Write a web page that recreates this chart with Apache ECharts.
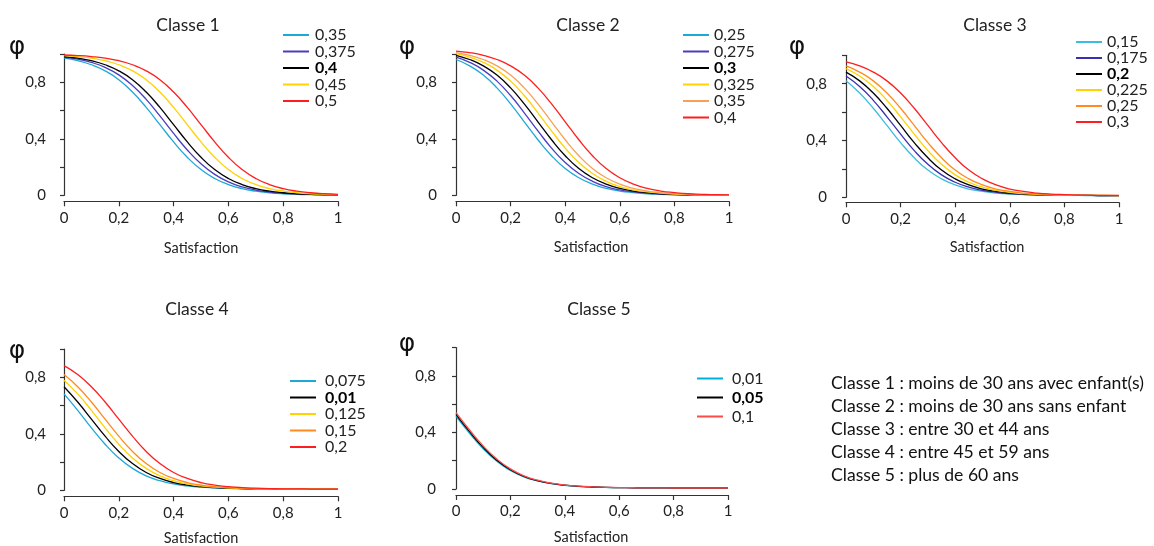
<!DOCTYPE html>
<html>
<head>
<meta charset="utf-8">
<script src="https://cdn.jsdelivr.net/npm/echarts@6/dist/echarts.min.js"></script>
<style>html,body{margin:0;padding:0;background:#fff}#c{width:1154px;height:546px}</style>
</head>
<body>
<div id="c"></div>
<script>
// Satisfaction sample points
const S = [0,0.05,0.1,0.15,0.2,0.25,0.3,0.35,0.4,0.45,0.5,0.55,0.6,0.65,0.7,0.75,0.8,0.85,0.9,0.95,1];
const xTickLabels = ['0','0,2','0,4','0,6','0,8','1'];
const yTickLabels = ['0','','0,4','','0,8',''];

// Classe 1
const c1_035  = [0.971,0.953,0.924,0.881,0.818,0.731,0.622,0.500,0.378,0.269,0.182,0.119,0.076,0.047,0.029,0.018,0.011,0.007,0.005,0.004,0.003];
const c1_0375 = [0.977,0.963,0.940,0.905,0.852,0.777,0.679,0.562,0.438,0.321,0.223,0.148,0.095,0.060,0.037,0.023,0.014,0.009,0.006,0.004,0.003];
const c1_04   = [0.982,0.971,0.953,0.924,0.881,0.818,0.731,0.622,0.500,0.378,0.269,0.182,0.119,0.076,0.047,0.029,0.018,0.011,0.007,0.005,0.004];
const c1_045  = [0.989,0.982,0.971,0.953,0.924,0.881,0.818,0.731,0.622,0.500,0.378,0.269,0.182,0.119,0.076,0.047,0.029,0.018,0.011,0.007,0.005];
const c1_05   = [0.993,0.989,0.982,0.971,0.953,0.924,0.881,0.818,0.731,0.622,0.500,0.378,0.269,0.182,0.119,0.076,0.047,0.029,0.018,0.011,0.007];

// Classe 2
const c2_025  = [0.961,0.916,0.851,0.760,0.647,0.520,0.393,0.280,0.189,0.124,0.079,0.049,0.030,0.019,0.011,0.007,0.004,0.002,0.002,0.001,0.001];
const c2_0275 = [0.978,0.941,0.886,0.808,0.706,0.584,0.456,0.334,0.232,0.154,0.099,0.062,0.038,0.024,0.015,0.009,0.005,0.003,0.002,0.001,0.001];
const c2_03   = [0.991,0.961,0.916,0.851,0.760,0.647,0.520,0.393,0.280,0.189,0.124,0.079,0.049,0.030,0.019,0.011,0.007,0.004,0.002,0.002,0.001];
const c2_0325 = [1.002,0.978,0.941,0.886,0.808,0.706,0.584,0.456,0.334,0.232,0.154,0.099,0.062,0.038,0.024,0.015,0.009,0.005,0.003,0.002,0.001];
const c2_035  = [1.010,0.991,0.961,0.916,0.851,0.760,0.647,0.520,0.393,0.280,0.189,0.124,0.079,0.049,0.030,0.019,0.011,0.007,0.004,0.002,0.002];
const c2_04   = [1.021,1.010,0.991,0.961,0.916,0.851,0.760,0.647,0.520,0.393,0.280,0.189,0.124,0.079,0.049,0.030,0.019,0.011,0.007,0.004,0.003];

// Classe 3
const c3_015  = [0.820,0.734,0.627,0.506,0.385,0.278,0.192,0.130,0.087,0.058,0.041,0.030,0.023,0.019,0.016,0.014,0.013,0.013,0.012,0.012,0.012];
const c3_0175 = [0.854,0.780,0.683,0.567,0.445,0.329,0.232,0.158,0.106,0.071,0.049,0.035,0.026,0.021,0.017,0.015,0.014,0.013,0.013,0.012,0.012];
const c3_02   = [0.882,0.820,0.734,0.627,0.506,0.385,0.278,0.192,0.130,0.087,0.058,0.041,0.030,0.023,0.019,0.016,0.014,0.013,0.013,0.012,0.012];
const c3_0225 = [0.906,0.854,0.780,0.683,0.567,0.445,0.329,0.232,0.158,0.106,0.071,0.049,0.035,0.026,0.021,0.017,0.015,0.014,0.013,0.013,0.012];
const c3_025  = [0.925,0.882,0.820,0.734,0.627,0.506,0.385,0.278,0.192,0.130,0.087,0.058,0.041,0.030,0.023,0.019,0.016,0.014,0.013,0.013,0.012];
const c3_03   = [0.954,0.925,0.882,0.820,0.734,0.627,0.506,0.385,0.278,0.192,0.130,0.087,0.058,0.041,0.030,0.023,0.019,0.016,0.014,0.013,0.013];

// Classe 4
const c4_0075 = [0.682,0.566,0.442,0.326,0.229,0.155,0.102,0.068,0.045,0.031,0.022,0.017,0.013,0.011,0.010,0.009,0.009,0.008,0.008,0.008,0.008];
const c4_001  = [0.733,0.625,0.504,0.383,0.275,0.189,0.126,0.084,0.055,0.037,0.026,0.019,0.015,0.012,0.010,0.010,0.009,0.008,0.008,0.008,0.008];
const c4_0125 = [0.779,0.682,0.566,0.442,0.326,0.229,0.155,0.102,0.068,0.045,0.031,0.022,0.017,0.013,0.011,0.010,0.009,0.009,0.008,0.008,0.008];
const c4_015  = [0.819,0.733,0.625,0.504,0.383,0.275,0.189,0.126,0.084,0.055,0.037,0.026,0.019,0.015,0.012,0.010,0.010,0.009,0.008,0.008,0.008];
const c4_02   = [0.882,0.819,0.733,0.625,0.504,0.383,0.275,0.189,0.126,0.084,0.055,0.037,0.026,0.019,0.015,0.012,0.010,0.010,0.009,0.008,0.008];

// Classe 5
const c5_001  = [0.515,0.393,0.284,0.196,0.131,0.086,0.057,0.038,0.026,0.018,0.014,0.011,0.010,0.009,0.008,0.008,0.007,0.007,0.007,0.007,0.007];
const c5_005  = [0.528,0.405,0.294,0.204,0.136,0.089,0.059,0.039,0.027,0.019,0.014,0.011,0.010,0.009,0.008,0.008,0.007,0.007,0.007,0.007,0.007];
const c5_01   = [0.540,0.417,0.304,0.212,0.142,0.093,0.062,0.041,0.028,0.020,0.015,0.012,0.010,0.009,0.008,0.008,0.007,0.007,0.007,0.007,0.007];

const classTitles = ['Classe 1','Classe 2','Classe 3','Classe 4','Classe 5'];
const notes = [
  'Classe 1 : moins de 30 ans avec enfant(s)',
  'Classe 2 : moins de 30 ans sans enfant',
  'Classe 3 : entre 30 et 44 ans',
  'Classe 4 : entre 45 et 59 ans',
  'Classe 5 : plus de 60 ans'
];

const CYAN='#1ea8d8', PURPLE='#4a3cc0', BLACK='#000000', YELLOW='#ffd200', ORANGE='#ff8a1e', ORANGE2='#f8a05a', RED='#ff1e1e';

const panels = [
  {grid:{left:64,top:54,width:274,height:141.3}, yOff:11, xOff:6,
   title:[188,25], phi:[17,47], sat:[201,248],
   legend:{left:283,top:27,gap:0.5,pad:1},
   lines:[
    {label:'0,35',data:c1_035,color:CYAN},
    {label:'0,375',data:c1_0375,color:PURPLE},
    {label:'0,4',data:c1_04,color:BLACK,bold:true},
    {label:'0,45',data:c1_045,color:YELLOW},
    {label:'0,5',data:c1_05,color:RED}]},
  {grid:{left:456,top:54,width:273,height:141.3}, yOff:12, xOff:6,
   title:[588,25], phi:[407,47], sat:[591,247],
   legend:{left:683,top:27,gap:0.5,pad:0},
   lines:[
    {label:'0,25',data:c2_025,color:CYAN},
    {label:'0,275',data:c2_0275,color:PURPLE},
    {label:'0,3',data:c2_03,color:BLACK,bold:true},
    {label:'0,325',data:c2_0325,color:YELLOW},
    {label:'0,35',data:c2_035,color:ORANGE2},
    {label:'0,4',data:c2_04,color:RED}]},
  {grid:{left:846,top:55.3,width:273,height:142}, yOff:12, xOff:5,
   title:[995,25], phi:[797,47], sat:[987,247],
   legend:{left:1076,top:34,gap:0,pad:0},
   lines:[
    {label:'0,15',data:c3_015,color:'#3cbce0'},
    {label:'0,175',data:c3_0175,color:'#3a2fb0'},
    {label:'0,2',data:c3_02,color:BLACK,bold:true},
    {label:'0,225',data:c3_0225,color:YELLOW},
    {label:'0,25',data:c3_025,color:ORANGE},
    {label:'0,3',data:c3_03,color:RED}]},
  {grid:{left:64,top:349,width:274,height:141.3}, yOff:11, xOff:6,
   title:[197,309], phi:[17,351], sat:[201,538],
   legend:{left:290,top:373,gap:0.5,pad:4},
   lines:[
    {label:'0,075',data:c4_0075,color:CYAN},
    {label:'0,01',data:c4_001,color:BLACK,bold:true},
    {label:'0,125',data:c4_0125,color:YELLOW},
    {label:'0,15',data:c4_015,color:ORANGE},
    {label:'0,2',data:c4_02,color:RED}]},
  {grid:{left:456,top:347.5,width:272,height:141.5}, yOff:13, xOff:6,
   title:[599,309], phi:[407,344], sat:[591,537],
   legend:{left:697,top:370.5,gap:3,pad:4},
   lines:[
    {label:'0,01',data:c5_001,color:'#00b0d8'},
    {label:'0,05',data:c5_005,color:BLACK,bold:true},
    {label:'0,1',data:c5_01,color:'#ff4a4a'}]}
];

const FONT = 'Lato';
const grids=[], xAxes=[], yAxes=[], series=[], legends=[], graphics=[];
const labelOf = {};

panels.forEach((p,pi)=>{
  grids.push(Object.assign({containLabel:false}, p.grid));
  xAxes.push({type:'value', gridIndex:pi, min:0, max:1, interval:0.2, offset:p.xOff,
    axisLine:{onZero:false, lineStyle:{color:'#333', width:1.2}},
    axisTick:{length:5, lineStyle:{color:'#333', width:1.2}},
    axisLabel:{margin:9, fontFamily:FONT, fontSize:15, color:'#222',
      formatter:(v,i)=>xTickLabels[i]},
    splitLine:{show:false}});
  yAxes.push({type:'value', gridIndex:pi, min:0, max:1, interval:0.2, offset:p.yOff,
    axisLine:{show:true, lineStyle:{color:'#333', width:1.2}},
    axisTick:{show:true, length:4, lineStyle:{color:'#333', width:1.2}},
    axisLabel:{margin:7, fontFamily:FONT, fontSize:15, color:'#222',
      formatter:(v,i)=>yTickLabels[i]},
    splitLine:{show:false}});
  const names=[];
  p.lines.forEach(l=>{
    const nm = 'p'+(pi+1)+'_'+l.label;
    labelOf[nm]=l;
    names.push(nm);
    series.push({type:'line', name:nm, xAxisIndex:pi, yAxisIndex:pi,
      data:S.map((s,i)=>[s,l.data[i]]), smooth:0.5, symbol:'none', clip:false,
      lineStyle:{color:l.color, width:1.3}, itemStyle:{color:l.color},
      silent:true, animation:false});
  });
  legends.push({data:names, orient:'vertical', left:p.legend.left, top:p.legend.top,
    itemGap:p.legend.gap, itemWidth:26, itemHeight:2, icon:'rect', selectedMode:false,
    padding:0,
    textStyle:{fontFamily:FONT, fontSize:16, color:'#222', lineHeight:16, padding:[0,0,0,p.legend.pad],
      rich:{b:{fontFamily:FONT, fontSize:16, fontWeight:'bold', color:'#000', lineHeight:16}}},
    formatter:(n)=>labelOf[n].bold ? '{b|'+labelOf[n].label+'}' : labelOf[n].label});
  graphics.push({type:'text', style:{text:classTitles[pi], x:p.title[0], y:p.title[1],
    textAlign:'center', textVerticalAlign:'middle', fontFamily:FONT, fontSize:17.5, fill:'#222'}});
  graphics.push({type:'text', style:{text:'φ', x:p.phi[0], y:p.phi[1],
    textAlign:'center', textVerticalAlign:'middle', fontFamily:'DejaVu Sans', fontSize:25, fill:'#111'}});
  graphics.push({type:'text', style:{text:'Satisfaction', x:p.sat[0], y:p.sat[1],
    textAlign:'center', textVerticalAlign:'middle', fontFamily:FONT, fontSize:14.5, fill:'#222'}});
});

notes.forEach((t,i)=>{
  graphics.push({type:'text', style:{text:t, x:831, y:383+i*23, textAlign:'left',
    textVerticalAlign:'middle', fontFamily:FONT, fontSize:17.6, fill:'#111'}});
});

const chart = echarts.init(document.getElementById('c'), null, {renderer:'canvas'});
chart.setOption({
  animation:false,
  grid:grids, xAxis:xAxes, yAxis:yAxes, series:series, legend:legends, graphic:graphics
});
</script>
</body>
</html>
